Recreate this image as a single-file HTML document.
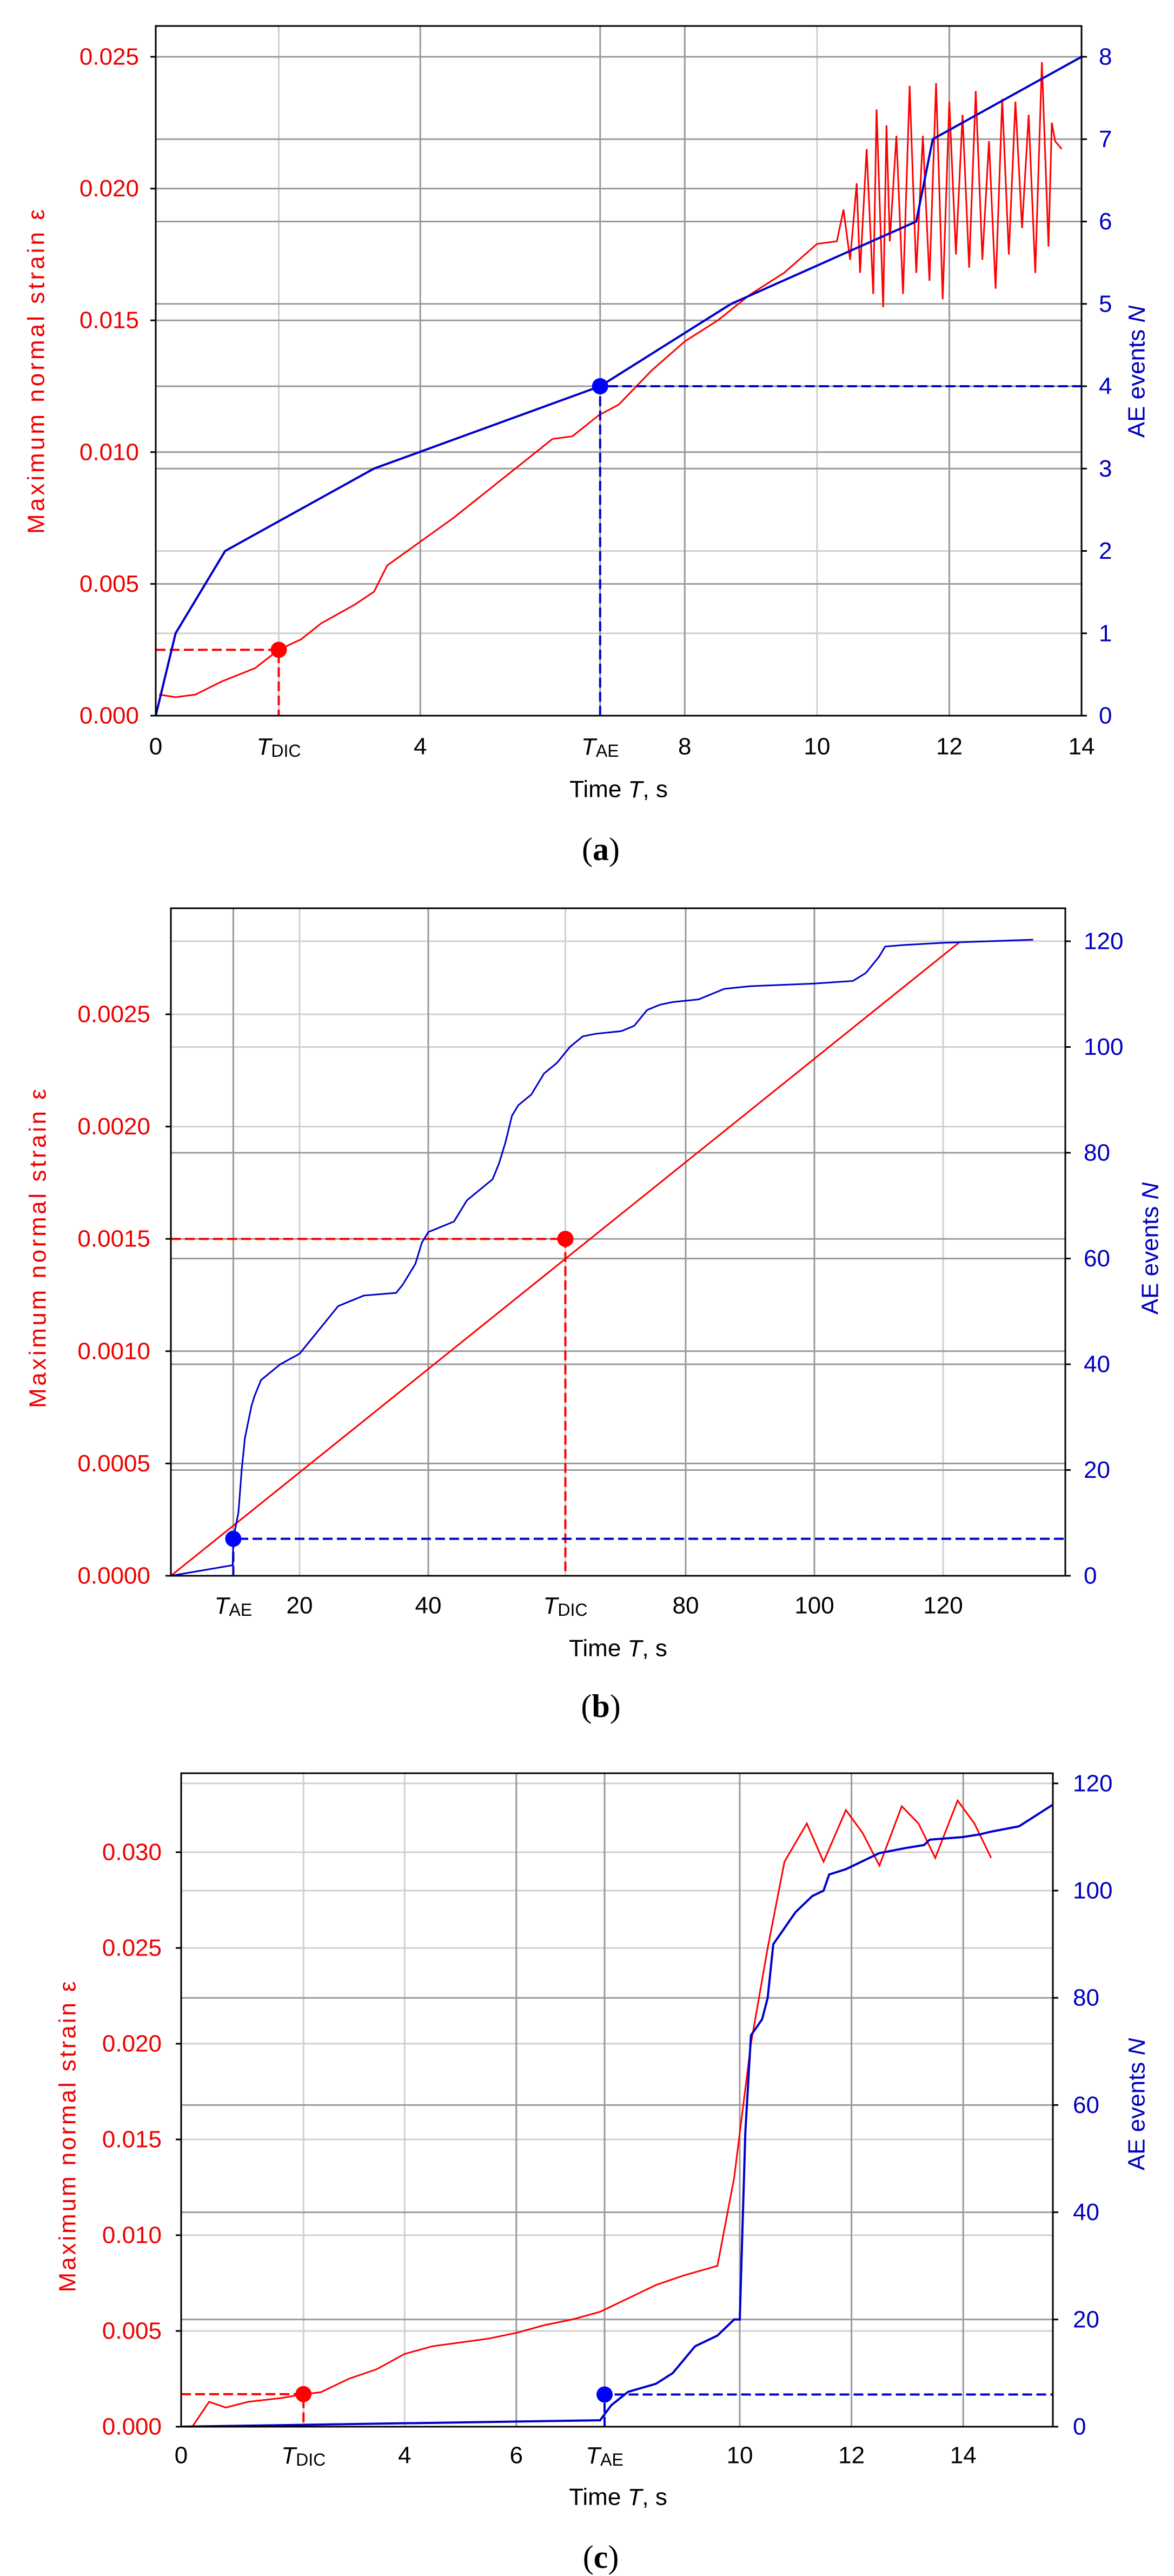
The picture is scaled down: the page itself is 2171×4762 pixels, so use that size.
<!DOCTYPE html>
<html><head><meta charset="utf-8"><style>
html,body{margin:0;padding:0;background:#fff}
svg{display:block}
text{font-family:"Liberation Sans",sans-serif}
.tl{font-size:44px;fill:#e00}
.tr{font-size:44px;fill:#0000c0}
.tx{font-size:44px;fill:#000}
.cap{font-family:"Liberation Serif",serif;font-size:60px}
.g1{stroke:#9a9a9a;stroke-width:3}
.g2{stroke:#d0d0d0;stroke-width:3}
.ns{vector-effect:non-scaling-stroke;fill:none}
</style></head><body>
<svg width="2171" height="4762" viewBox="0 0 2171 4762" xmlns="http://www.w3.org/2000/svg">
<defs>
<clipPath id="ca"><rect x="288" y="48" width="1712" height="1275"/></clipPath>
<clipPath id="cb"><rect x="316" y="1679" width="1654" height="1234"/></clipPath>
<clipPath id="cc"><rect x="335" y="3278" width="1612" height="1208"/></clipPath>
</defs>

<!-- ================= PANEL A ================= -->
<g>
<!-- grid -->
<g class="g2">
<line x1="515.5" y1="48" x2="515.5" y2="1323"/><line x1="1510.9" y1="48" x2="1510.9" y2="1323"/>
<line x1="288" y1="1170.75" x2="2000" y2="1170.75"/><line x1="288" y1="1018.5" x2="2000" y2="1018.5"/>
</g>
<g class="g1">
<line x1="777.2" y1="48" x2="777.2" y2="1323"/><line x1="1109.8" y1="48" x2="1109.8" y2="1323"/>
<line x1="1266.3" y1="48" x2="1266.3" y2="1323"/><line x1="1755.5" y1="48" x2="1755.5" y2="1323"/>
<line x1="288" y1="1079.4" x2="2000" y2="1079.4"/><line x1="288" y1="835.8" x2="2000" y2="835.8"/>
<line x1="288" y1="592.2" x2="2000" y2="592.2"/><line x1="288" y1="348.6" x2="2000" y2="348.6"/>
<line x1="288" y1="105" x2="2000" y2="105"/>
<line x1="288" y1="866.25" x2="2000" y2="866.25"/><line x1="288" y1="714" x2="2000" y2="714"/>
<line x1="288" y1="561.75" x2="2000" y2="561.75"/><line x1="288" y1="409.5" x2="2000" y2="409.5"/>
<line x1="288" y1="257.25" x2="2000" y2="257.25"/>
</g>
<g clip-path="url(#ca)">
<g transform="matrix(122.29,0,0,-48720,288,1323)">
<polyline class="ns" stroke="#f00" stroke-width="3" points="0.05,0.0008 0.3,0.0007 0.6,0.0008 1,0.0013 1.5,0.0018 1.86,0.0025 2.2,0.0029 2.5,0.0035 3,0.0042 3.3,0.0047 3.5,0.0057 4,0.0066 4.5,0.0075 5,0.0085 5.5,0.0095 6,0.0105 6.3,0.0106 6.7,0.0114 7,0.0118 7.5,0.0131 8,0.0142 8.5,0.015 9,0.016 9.5,0.0168 10,0.0179 10.3,0.018 10.4,0.0192 10.5,0.0173 10.6,0.0202 10.65,0.0168 10.75,0.0215 10.85,0.016 10.9,0.023 11,0.0155 11.05,0.0224 11.1,0.018 11.2,0.022 11.3,0.016 11.4,0.0239 11.5,0.0168 11.6,0.022 11.7,0.0165 11.8,0.024 11.9,0.0158 12,0.0233 12.1,0.0175 12.2,0.0228 12.3,0.017 12.4,0.0237 12.5,0.0173 12.6,0.0218 12.7,0.0162 12.8,0.0234 12.9,0.0175 13,0.0233 13.1,0.0185 13.2,0.0228 13.3,0.0168 13.4,0.0248 13.5,0.0178 13.55,0.0225 13.6,0.0218 13.7,0.0215"/>
<polyline class="ns" stroke="#f00" stroke-width="4" stroke-dasharray="18,8" points="0,0.0025 1.86,0.0025 1.86,0"/>
</g>
<g transform="matrix(122.29,0,0,-152.25,288,1323)">
<polyline class="ns" stroke="#0000cc" stroke-width="4" points="0,0 0.3,1 1.05,2 3.3,3 6.72,4 8.7,5 11.5,6 11.75,7 14,8"/>
<polyline class="ns" stroke="#0000cc" stroke-width="4" stroke-dasharray="18,8" points="6.72,0 6.72,4 14,4"/>
</g>
</g>
<circle cx="515.5" cy="1201.2" r="15" fill="#f00"/>
<circle cx="1109.8" cy="714" r="15" fill="#00f"/>
<rect x="288" y="48" width="1712" height="1275" fill="none" stroke="#000" stroke-width="3"/>
<!-- ticks -->
<g stroke="#000" stroke-width="3">
<line x1="278" y1="1323" x2="288" y2="1323"/><line x1="278" y1="1079.4" x2="288" y2="1079.4"/><line x1="278" y1="835.8" x2="288" y2="835.8"/><line x1="278" y1="592.2" x2="288" y2="592.2"/><line x1="278" y1="348.6" x2="288" y2="348.6"/><line x1="278" y1="105" x2="288" y2="105"/>
<line x1="2000" y1="1323" x2="2010" y2="1323"/><line x1="2000" y1="1170.75" x2="2010" y2="1170.75"/><line x1="2000" y1="1018.5" x2="2010" y2="1018.5"/><line x1="2000" y1="866.25" x2="2010" y2="866.25"/><line x1="2000" y1="714" x2="2010" y2="714"/><line x1="2000" y1="561.75" x2="2010" y2="561.75"/><line x1="2000" y1="409.5" x2="2010" y2="409.5"/><line x1="2000" y1="257.25" x2="2010" y2="257.25"/><line x1="2000" y1="105" x2="2010" y2="105"/>
</g>
<g class="tl" text-anchor="end" dominant-baseline="central">
<text x="257" y="1323">0.000</text><text x="257" y="1079.4">0.005</text><text x="257" y="835.8">0.010</text><text x="257" y="592.2">0.015</text><text x="257" y="348.6">0.020</text><text x="257" y="105">0.025</text>
</g>
<g class="tr" dominant-baseline="central">
<text x="2032" y="1323">0</text><text x="2032" y="1170.75">1</text><text x="2032" y="1018.5">2</text><text x="2032" y="866.25">3</text><text x="2032" y="714">4</text><text x="2032" y="561.75">5</text><text x="2032" y="409.5">6</text><text x="2032" y="257.25">7</text><text x="2032" y="105">8</text>
</g>
<g class="tx" text-anchor="middle" dominant-baseline="central">
<text x="288" y="1380">0</text><text x="515.5" y="1380"><tspan font-style="italic">T</tspan><tspan font-size="32" dy="8">DIC</tspan></text><text x="777.2" y="1380">4</text><text x="1109.8" y="1380"><tspan font-style="italic">T</tspan><tspan font-size="32" dy="8">AE</tspan></text><text x="1266.3" y="1380">8</text><text x="1510.9" y="1380">10</text><text x="1755.5" y="1380">12</text><text x="2000" y="1380">14</text>
<text x="1144" y="1459">Time <tspan font-style="italic">T</tspan>, s</text>
<text class="cap" x="1111" y="1570">(<tspan font-weight="bold">a</tspan>)</text>
</g>
<text class="tl" transform="translate(67,687) rotate(-90)" text-anchor="middle" dominant-baseline="central" textLength="600">Maximum normal strain ε</text>
<text class="tr" transform="translate(2102,687) rotate(-90)" text-anchor="middle" dominant-baseline="central">AE events <tspan font-style="italic">N</tspan></text>
</g>

<!-- ================= PANEL B ================= -->
<g>
<g class="g2">
<line x1="554" y1="1679" x2="554" y2="2913"/><line x1="1045.5" y1="1679" x2="1045.5" y2="2913"/><line x1="1744" y1="1679" x2="1744" y2="2913"/>
<line x1="316" y1="1875" x2="1970" y2="1875"/><line x1="316" y1="1935.5" x2="1970" y2="1935.5"/><line x1="316" y1="1740" x2="1970" y2="1740"/><line x1="316" y1="2082.6" x2="1970" y2="2082.6"/>
</g>
<g class="g1">
<line x1="431.4" y1="1679" x2="431.4" y2="2913"/><line x1="792" y1="1679" x2="792" y2="2913"/><line x1="1268" y1="1679" x2="1268" y2="2913"/><line x1="1506" y1="1679" x2="1506" y2="2913"/>
<line x1="316" y1="2705.4" x2="1970" y2="2705.4"/><line x1="316" y1="2497.8" x2="1970" y2="2497.8"/><line x1="316" y1="2290.2" x2="1970" y2="2290.2"/>
<line x1="316" y1="2717.5" x2="1970" y2="2717.5"/><line x1="316" y1="2522" x2="1970" y2="2522"/><line x1="316" y1="2326.5" x2="1970" y2="2326.5"/><line x1="316" y1="2131" x2="1970" y2="2131"/>
</g>
<g clip-path="url(#cb)">
<g transform="matrix(11.9,0,0,-415200,316,2913)">
<polyline class="ns" stroke="#f00" stroke-width="3" points="0,0 122.5,0.00282"/>
<polyline class="ns" stroke="#f00" stroke-width="4" stroke-dasharray="18,8" points="0,0.0015 61.3,0.0015 61.3,0"/>
</g>
<g transform="matrix(11.9,0,0,-9.775,316,2913)">
<polyline class="ns" stroke="#0000cc" stroke-width="3" points="0,0 9.6,2 9.7,7 10.5,12 11,20 11.5,26 12,29 12.5,32 13,34 14,37 15,38 17,40 20,42 22,45 24,48 26,51 28,52 30,53 35,53.5 36,55 38,59 39,63 40,65 42,66 44,67 46,71 48,73 50,75 51,78 52,82 53,87 54,89 56,91 58,95 60,97 62,100 64,102 66,102.5 70,103 72,104 74,107 76,108 78,108.5 82,109 84,110 86,111 90,111.5 100,112 106,112.5 108,114 110,117 111,119 114,119.3 120,119.7 134,120.3"/>
<polyline class="ns" stroke="#0000cc" stroke-width="4" stroke-dasharray="18,8" points="9.7,0 9.7,7 139,7"/>
</g>
</g>
<circle cx="1045.5" cy="2290.2" r="15" fill="#f00"/>
<circle cx="431.4" cy="2844.6" r="15" fill="#00f"/>
<rect x="316" y="1679" width="1654" height="1234" fill="none" stroke="#000" stroke-width="3"/>
<g stroke="#000" stroke-width="3">
<line x1="306" y1="2913" x2="316" y2="2913"/><line x1="306" y1="2705.4" x2="316" y2="2705.4"/><line x1="306" y1="2497.8" x2="316" y2="2497.8"/><line x1="306" y1="2290.2" x2="316" y2="2290.2"/><line x1="306" y1="2082.6" x2="316" y2="2082.6"/><line x1="306" y1="1875" x2="316" y2="1875"/>
<line x1="1970" y1="2913" x2="1980" y2="2913"/><line x1="1970" y1="2717.5" x2="1980" y2="2717.5"/><line x1="1970" y1="2522" x2="1980" y2="2522"/><line x1="1970" y1="2326.5" x2="1980" y2="2326.5"/><line x1="1970" y1="2131" x2="1980" y2="2131"/><line x1="1970" y1="1935.5" x2="1980" y2="1935.5"/><line x1="1970" y1="1740" x2="1980" y2="1740"/>
</g>
<g class="tl" text-anchor="end" dominant-baseline="central">
<text x="278" y="2913">0.0000</text><text x="278" y="2705.4">0.0005</text><text x="278" y="2497.8">0.0010</text><text x="278" y="2290.2">0.0015</text><text x="278" y="2082.6">0.0020</text><text x="278" y="1875">0.0025</text>
</g>
<g class="tr" dominant-baseline="central">
<text x="2004" y="2913">0</text><text x="2004" y="2717.5">20</text><text x="2004" y="2522">40</text><text x="2004" y="2326.5">60</text><text x="2004" y="2131">80</text><text x="2004" y="1935.5">100</text><text x="2004" y="1740">120</text>
</g>
<g class="tx" text-anchor="middle" dominant-baseline="central">
<text x="431.4" y="2968"><tspan font-style="italic">T</tspan><tspan font-size="32" dy="8">AE</tspan></text><text x="554" y="2968">20</text><text x="792" y="2968">40</text><text x="1045.5" y="2968"><tspan font-style="italic">T</tspan><tspan font-size="32" dy="8">DIC</tspan></text><text x="1268" y="2968">80</text><text x="1506" y="2968">100</text><text x="1744" y="2968">120</text>
<text x="1143" y="3047">Time <tspan font-style="italic">T</tspan>, s</text>
<text class="cap" x="1111" y="3154">(<tspan font-weight="bold">b</tspan>)</text>
</g>
<text class="tl" transform="translate(70,2308) rotate(-90)" text-anchor="middle" dominant-baseline="central" textLength="590">Maximum normal strain ε</text>
<text class="tr" transform="translate(2127,2308) rotate(-90)" text-anchor="middle" dominant-baseline="central">AE events <tspan font-style="italic">N</tspan></text>
</g>

<!-- ================= PANEL C ================= -->
<g>
<g class="g2">
<line x1="561.2" y1="3278" x2="561.2" y2="4486"/><line x1="748.2" y1="3278" x2="748.2" y2="4486"/>
<line x1="335" y1="3424" x2="1947" y2="3424"/><line x1="335" y1="3495" x2="1947" y2="3495"/><line x1="335" y1="3601" x2="1947" y2="3601"/><line x1="335" y1="3778" x2="1947" y2="3778"/><line x1="335" y1="3955" x2="1947" y2="3955"/><line x1="335" y1="4132" x2="1947" y2="4132"/><line x1="335" y1="4309" x2="1947" y2="4309"/><line x1="335" y1="3296.8" x2="1947" y2="3296.8"/>
</g>
<g class="g1">
<line x1="954.8" y1="3278" x2="954.8" y2="4486"/><line x1="1118" y1="3278" x2="1118" y2="4486"/><line x1="1368" y1="3278" x2="1368" y2="4486"/><line x1="1574.6" y1="3278" x2="1574.6" y2="4486"/><line x1="1781.2" y1="3278" x2="1781.2" y2="4486"/>
<line x1="335" y1="4287.8" x2="1947" y2="4287.8"/><line x1="335" y1="4089.6" x2="1947" y2="4089.6"/><line x1="335" y1="3891.4" x2="1947" y2="3891.4"/><line x1="335" y1="3693.2" x2="1947" y2="3693.2"/>
</g>
<g clip-path="url(#cc)">
<g transform="matrix(103.3,0,0,-35400,335,4486)">
<polyline class="ns" stroke="#f00" stroke-width="3" points="0.2,0 0.5,0.0013 0.8,0.001 1.2,0.0013 1.8,0.0015 2.2,0.0017 2.5,0.0018 3,0.0025 3.5,0.003 4,0.0038 4.5,0.0042 5,0.0044 5.5,0.0046 6,0.0049 6.5,0.0053 7,0.0056 7.5,0.006 8,0.0067 8.5,0.0074 9,0.0079 9.6,0.0084 9.9,0.013 10.2,0.02 10.5,0.025 10.8,0.0295 11.2,0.0315 11.5,0.0295 11.9,0.0322 12.2,0.031 12.5,0.0293 12.9,0.0324 13.2,0.0315 13.5,0.0297 13.9,0.0327 14.2,0.0315 14.5,0.0297"/>
<polyline class="ns" stroke="#f00" stroke-width="4" stroke-dasharray="18,8" points="0,0.0017 2.19,0.0017 2.19,0"/>
</g>
<g transform="matrix(103.3,0,0,-9.91,335,4486)">
<polyline class="ns" stroke="#0000cc" stroke-width="4" points="0,0 7.5,1.2 7.7,4 8,6.5 8.5,8 8.8,10 9.2,15 9.6,17 9.9,20 10,20 10.1,55 10.2,73 10.4,76 10.5,80 10.6,90 10.8,93 11,96 11.3,99 11.5,100 11.6,103 11.9,104 12.3,106 12.5,107 13,108 13.3,108.5 13.4,109.5 14,110 14.3,110.5 14.5,111 15,112 15.3,114 15.6,116"/>
<polyline class="ns" stroke="#0000cc" stroke-width="4" stroke-dasharray="18,8" points="7.58,0 7.58,6 15.6,6"/>
</g>
</g>
<circle cx="561.2" cy="4425.8" r="15" fill="#f00"/>
<circle cx="1118" cy="4426.5" r="15" fill="#00f"/>
<rect x="335" y="3278" width="1612" height="1208" fill="none" stroke="#000" stroke-width="3"/>
<g stroke="#000" stroke-width="3">
<line x1="325" y1="4486" x2="335" y2="4486"/><line x1="325" y1="4309" x2="335" y2="4309"/><line x1="325" y1="4132" x2="335" y2="4132"/><line x1="325" y1="3955" x2="335" y2="3955"/><line x1="325" y1="3778" x2="335" y2="3778"/><line x1="325" y1="3601" x2="335" y2="3601"/><line x1="325" y1="3424" x2="335" y2="3424"/>
<line x1="1947" y1="4486" x2="1957" y2="4486"/><line x1="1947" y1="4287.8" x2="1957" y2="4287.8"/><line x1="1947" y1="4089.6" x2="1957" y2="4089.6"/><line x1="1947" y1="3891.4" x2="1957" y2="3891.4"/><line x1="1947" y1="3693.2" x2="1957" y2="3693.2"/><line x1="1947" y1="3495" x2="1957" y2="3495"/><line x1="1947" y1="3296.8" x2="1957" y2="3296.8"/>
</g>
<g class="tl" text-anchor="end" dominant-baseline="central">
<text x="299" y="4486">0.000</text><text x="299" y="4309">0.005</text><text x="299" y="4132">0.010</text><text x="299" y="3955">0.015</text><text x="299" y="3778">0.020</text><text x="299" y="3601">0.025</text><text x="299" y="3424">0.030</text>
</g>
<g class="tr" dominant-baseline="central">
<text x="1984" y="4486">0</text><text x="1984" y="4287.8">20</text><text x="1984" y="4089.6">40</text><text x="1984" y="3891.4">60</text><text x="1984" y="3693.2">80</text><text x="1984" y="3495">100</text><text x="1984" y="3296.8">120</text>
</g>
<g class="tx" text-anchor="middle" dominant-baseline="central">
<text x="335" y="4539">0</text><text x="561.2" y="4539"><tspan font-style="italic">T</tspan><tspan font-size="32" dy="8">DIC</tspan></text><text x="748.2" y="4539">4</text><text x="954.8" y="4539">6</text><text x="1118" y="4539"><tspan font-style="italic">T</tspan><tspan font-size="32" dy="8">AE</tspan></text><text x="1368" y="4539">10</text><text x="1574.6" y="4539">12</text><text x="1781.2" y="4539">14</text>
<text x="1143" y="4616">Time <tspan font-style="italic">T</tspan>, s</text>
<text class="cap" x="1111" y="4727">(<tspan font-weight="bold">c</tspan>)</text>
</g>
<text class="tl" transform="translate(125,3950) rotate(-90)" text-anchor="middle" dominant-baseline="central" textLength="575">Maximum normal strain ε</text>
<text class="tr" transform="translate(2102,3890) rotate(-90)" text-anchor="middle" dominant-baseline="central">AE events <tspan font-style="italic">N</tspan></text>
</g>
</svg>
</body></html>
